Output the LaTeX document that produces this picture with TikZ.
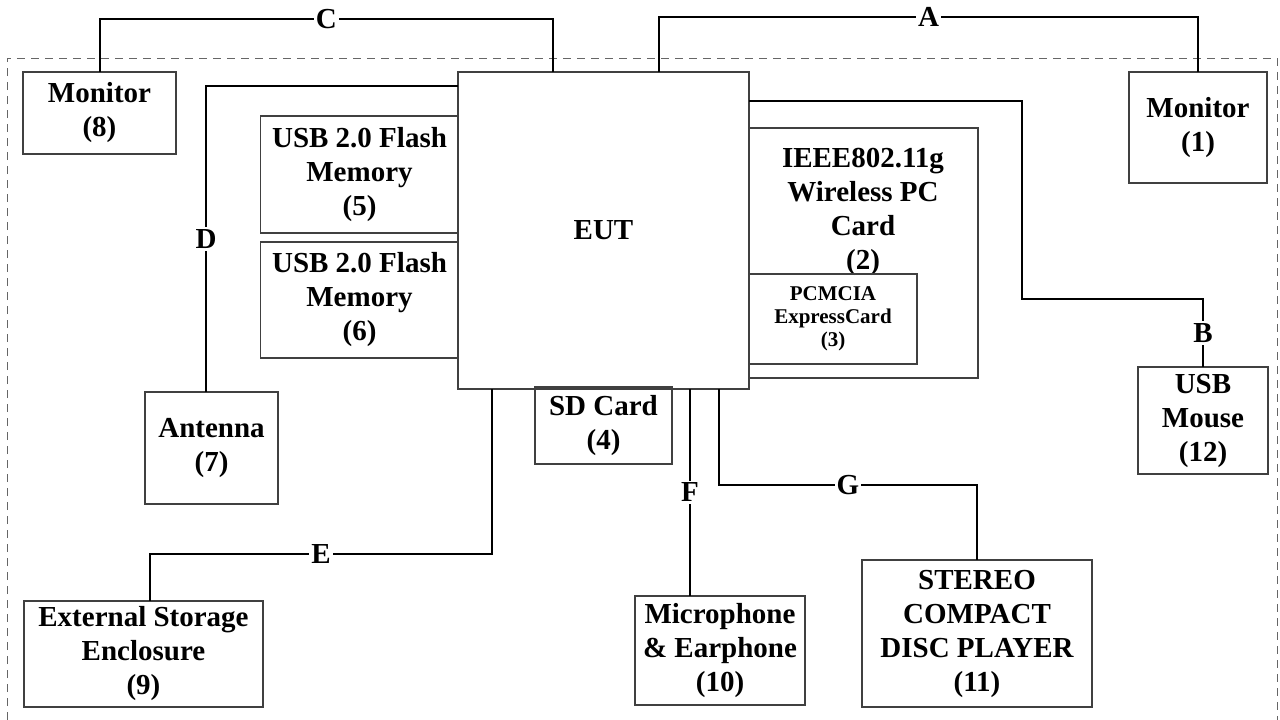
\documentclass[tikz,border=0pt]{standalone}
\usepackage{fontspec}
\setmainfont{Liberation Serif}
\usepackage{tikz}
\usetikzlibrary{positioning, calc}

\begin{document}
\begin{tikzpicture}[x=1pt, y=-1pt,
  unit/.style={draw=black!75, line width=1.2pt, inner sep=0pt, outer sep=0pt, align=center, font=\bfseries\fontsize{29}{34}\selectfont},
  txt/.style={align=center, inner sep=0pt, font=\bfseries\fontsize{29}{34}\selectfont},
  cable/.style={line width=2pt},
  tag/.style={fill=white, inner sep=2pt, font=\bfseries\fontsize{29}{34}\selectfont},
  border/.style={draw=black!60, line width=1pt, dash pattern=on 8pt off 6pt}]
  \useasboundingbox (0,0) rectangle (1280,720);
  % test area
  \draw[border] (7,720) |- (1277,58) -- (1277,720);
  % EUT and cards
  \node[unit, minimum width=291pt, minimum height=317pt] (eut) at (603.5,230.5) {EUT};
  \node[unit, minimum width=198pt, minimum height=117pt] (usb5) at (359.5,174.5) {USB 2.0 Flash\\Memory\\(5)};
  \node[unit, minimum width=198pt, minimum height=116pt] (usb6) at (359.5,300) {USB 2.0 Flash\\Memory\\(6)};
  \node[unit, minimum width=229pt, minimum height=250pt] (wlan) at (863.5,253) {};
  \node[txt] (wlantxt) at (863,212) {IEEE802.11g\\Wireless PC\\Card\\(2)};
  \node[unit, minimum width=168pt, minimum height=90pt, font=\bfseries\fontsize{21}{23}\selectfont] (pcmcia) at (833,319) {PCMCIA\\ExpressCard\\(3)};
  \node[unit, minimum width=137pt, minimum height=77pt] (sd) at (603.5,425.5) {SD Card\\(4)};
  % peripherals
  \node[unit, minimum width=153pt, minimum height=82pt] (mon8) at (99.5,113) {Monitor\\(8)};
  \node[unit, minimum width=138pt, minimum height=111pt] (mon1) at (1198,127.5) {Monitor\\(1)};
  \node[unit, minimum width=130pt, minimum height=107pt] (mouse) at (1203,420.5) {USB\\Mouse\\(12)};
  \node[unit, minimum width=133pt, minimum height=112pt] (ant) at (211.5,448) {Antenna\\(7)};
  \node[unit, minimum width=239pt, minimum height=106pt] (ext) at (143.5,654) {External Storage\\Enclosure\\(9)};
  \node[unit, minimum width=170pt, minimum height=109pt] (mic) at (720,650.5) {Microphone\\\& Earphone\\(10)};
  \node[unit, minimum width=230pt, minimum height=147pt] (cd) at (977,633.5) {STEREO\\COMPACT\\DISC PLAYER\\(11)};
  % cables
  \draw[cable] (659,0 |- eut.north) |- node[tag, pos=0.75] {A} (mon1.north |- 0,17) -- (mon1.north);
  \draw[cable] (553,0 |- eut.north) |- node[tag, pos=0.75] {C} (mon8.north |- 0,19) -- (mon8.north);
  \draw[cable] (eut.east |- 0,101) -| (1022,299) -| node[tag, pos=0.75] {B} (mouse.north);
  \draw[cable] (eut.west |- 0,86) -| node[tag, pos=0.75] {D} (206,0 |- ant.north);
  \draw[cable] (492,0 |- eut.south) |- node[tag, pos=0.75] {E} (150,554) -- (150,0 |- ext.north);
  \draw[cable] (690,0 |- eut.south) -- node[tag] {F} (690,0 |- mic.north);
  \draw[cable] (719,0 |- eut.south) |- node[tag, pos=0.75] {G} (cd.north |- 0,485) -- (cd.north);
\end{tikzpicture}
\end{document}
